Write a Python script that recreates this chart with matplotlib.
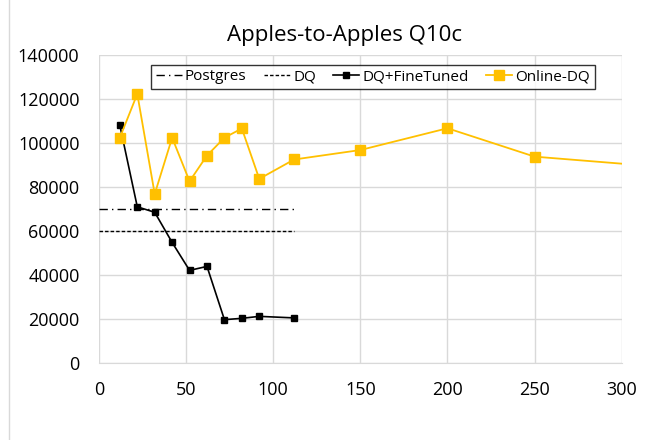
import numpy as np
import matplotlib.pyplot as plt

plt.rcParams['font.family'] = ['Open Sans', 'DejaVu Sans']

# data
ft_x = [12, 22, 32, 42, 52, 62, 72, 82, 92, 112]
ft_y = [108000, 71000, 68500, 54800, 42100, 43900, 19700, 20300, 21200, 20500]

online_x = [12, 22, 32, 42, 52, 62, 72, 82, 92, 112, 150, 200, 250, 350]
online_y = [102400, 122300, 76800, 102400, 82600, 94300, 102400, 106600,
            83700, 92500, 96800, 106700, 93800, 87400]

baseline_x = [0, 112]
postgres_y = [70000, 70000]
dq_y = [60000, 60000]

x_ticks = [0, 50, 100, 150, 200, 250, 300]
y_ticks = [0, 20000, 40000, 60000, 80000, 100000, 120000, 140000]

fig = plt.figure(figsize=(6.51, 4.40), dpi=100)
ax = fig.add_axes([0.152, 0.175, 0.803, 0.70])

ax.plot(baseline_x, postgres_y, color='black', lw=1.0, ls=(0, (6, 3, 1, 3)), label='Postgres')
ax.plot(baseline_x, dq_y, color='black', lw=1.0, ls=(0, (2.5, 1.5)), label='DQ')
ax.plot(ft_x, ft_y, color='black', lw=1.2, marker='s', ms=5, label='DQ+FineTuned')
ax.plot(online_x, online_y, color='#FFC000', lw=1.3, marker='s', ms=7, label='Online-DQ')

ax.set_xlim(0, 300)
ax.set_ylim(0, 140000)
ax.set_xticks(x_ticks)
ax.set_yticks(y_ticks)
ax.tick_params(length=0, labelsize=13)
ax.tick_params(axis='x', pad=13)
ax.tick_params(axis='y', pad=14)
ax.grid(True, color='#d9d9d9', lw=1.0)
ax.set_axisbelow(True)
for s in ['top', 'right', 'left']:
    ax.spines[s].set_visible(False)
ax.spines['bottom'].set_color('#d9d9d9')

ax.set_title('Apples-to-Apples Q10c', fontsize=16, pad=10, x=0.47)

leg = ax.legend(loc='upper center', bbox_to_anchor=(0.524, 0.968), ncol=4, fontsize=11,
                frameon=True, fancybox=False, edgecolor='black', handlelength=1.7,
                handletextpad=0.2, columnspacing=1.15, borderpad=0.3, borderaxespad=0)
leg.get_frame().set_linewidth(1.0)

# faint outer border line on the left, like the original chart area edge
fig.add_artist(plt.Line2D([0.014, 0.014], [0, 1], color='#d9d9d9', lw=1.0))

fig.savefig('out.png', dpi=100)
